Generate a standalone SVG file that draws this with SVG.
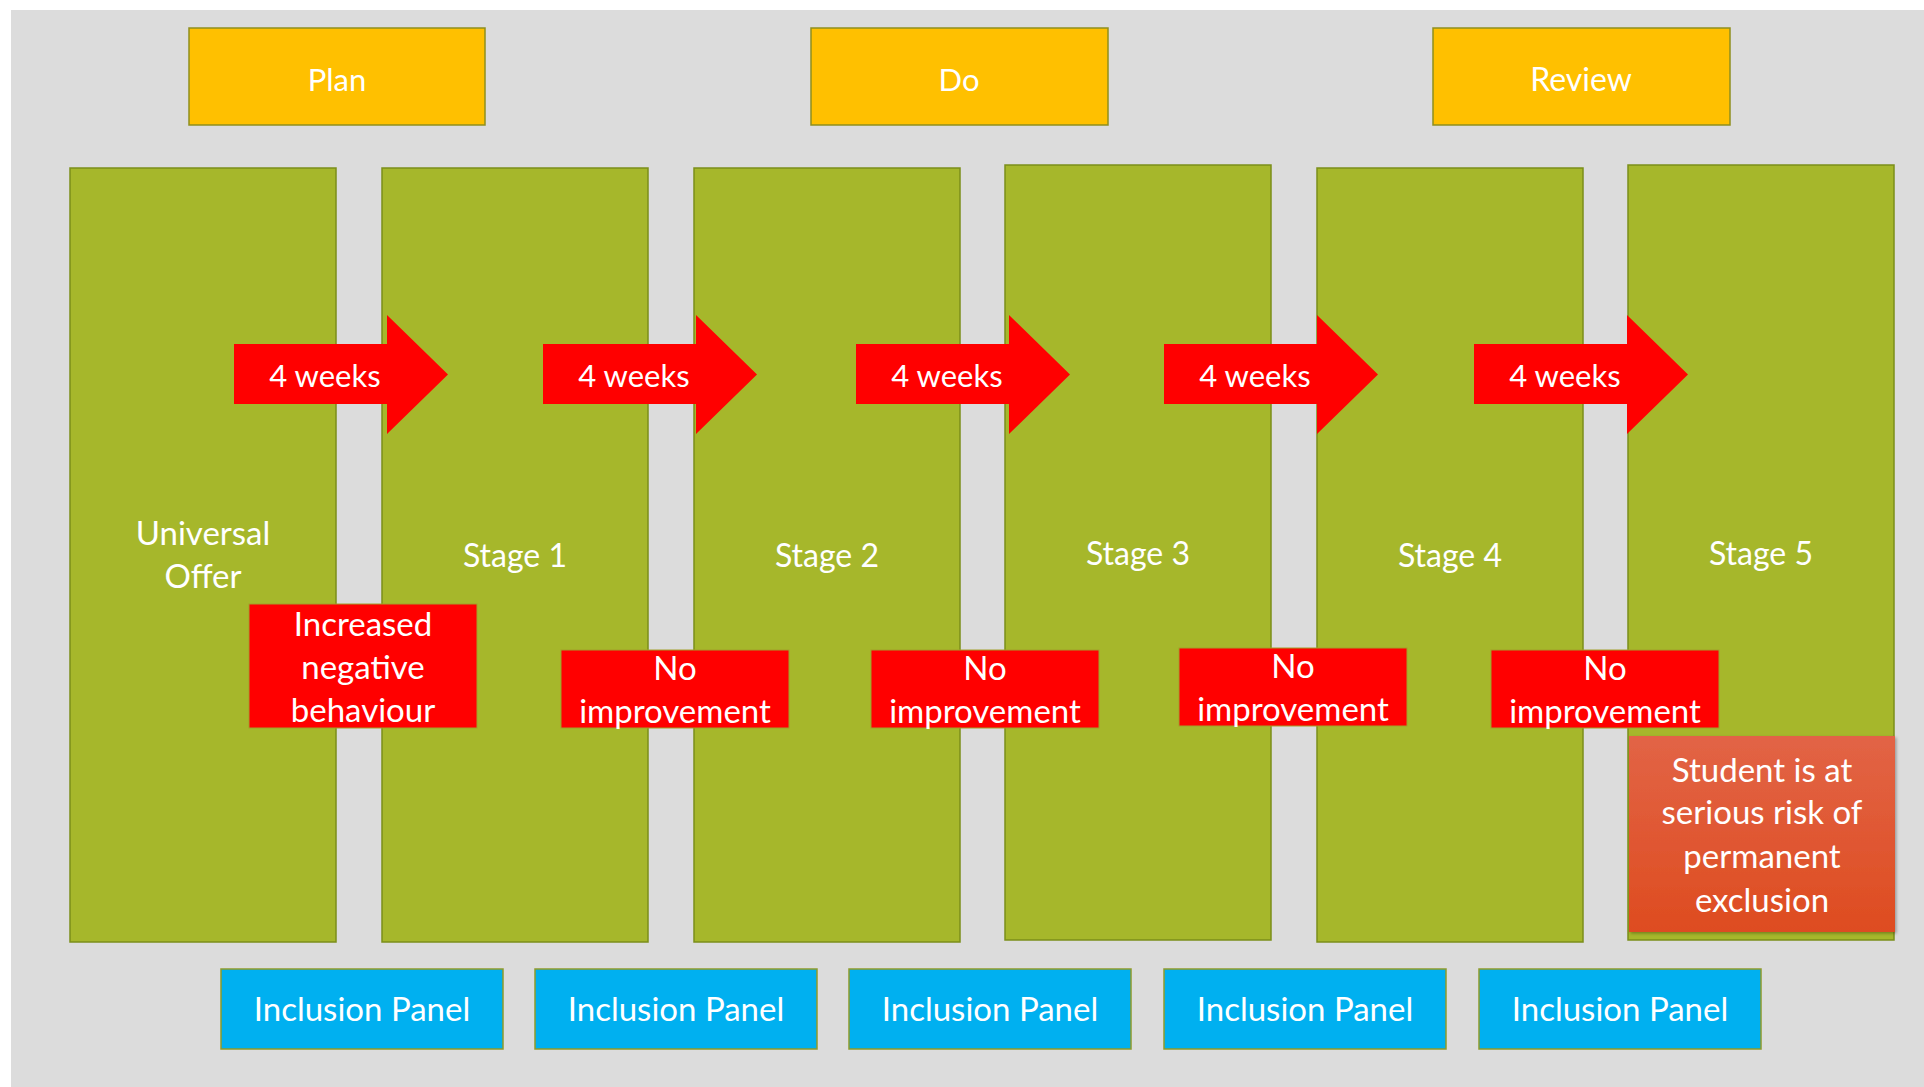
<svg xmlns="http://www.w3.org/2000/svg" width="1924" height="1087" viewBox="0 0 1924 1087">
<defs>
<linearGradient id="orangeGrad" x1="0" y1="0" x2="0" y2="1">
<stop offset="0" stop-color="#E26446"/>
<stop offset="1" stop-color="#DE4C20"/>
</linearGradient>
<filter id="sh" x="-5%" y="-5%" width="115%" height="115%">
<feDropShadow dx="1.5" dy="1.5" stdDeviation="1.5" flood-color="#000" flood-opacity="0.3"/>
</filter>
</defs>
<style>
text{font-family:Lato,"Open Sans","Liberation Sans",sans-serif;fill:#FFFFFF;text-anchor:middle}
.phase{fill:#FFC000;stroke:#8E8F1E;stroke-width:1.5}
.col{fill:#A6B72B;stroke:#7B8E1A;stroke-width:1.5}
.red{fill:#FF0000;stroke:#A2A02A;stroke-width:1}
.blue{fill:#00B0F0;stroke:#8E9A2A;stroke-width:1.5}
.arrow{fill:#FF0000}
.t33{font-size:33px}
.t32{font-size:32px}
.t30{font-size:31px}
.t29{font-size:31px}
</style>
<rect x="0" y="0" width="1924" height="1087" fill="#FFFFFF"/>
<rect x="11" y="10" width="1913" height="1077" fill="#DCDCDC"/>

<g id="plan"><rect class="phase" x="189" y="28" width="296" height="97"/><text class="t30" x="337" y="91">Plan</text></g>
<g id="do"><rect class="phase" x="811" y="28" width="297" height="97"/><text class="t30" x="959" y="91">Do</text></g>
<g id="review"><rect class="phase" x="1433" y="28" width="297" height="97"/><text class="t32" x="1581" y="91">Review</text></g>

<g id="universal-offer"><rect class="col" x="70" y="168" width="266" height="774"/><text class="t33" x="203" y="545">Universal</text><text class="t33" x="203" y="588">Offer</text></g>
<g id="stage1"><rect class="col" x="382" y="168" width="266" height="774"/><text class="t32" x="515" y="567">Stage 1</text></g>
<g id="stage2"><rect class="col" x="694" y="168" width="266" height="774"/><text class="t32" x="827" y="567">Stage 2</text></g>
<g id="stage3"><rect class="col" x="1005" y="165" width="266" height="775"/><text class="t32" x="1138" y="565">Stage 3</text></g>
<g id="stage4"><rect class="col" x="1317" y="168" width="266" height="774"/><text class="t32" x="1450" y="567">Stage 4</text></g>
<g id="stage5"><rect class="col" x="1628" y="165" width="266" height="775"/><text class="t32" x="1761" y="565">Stage 5</text></g>

<g id="connectors">
<g id="arrow1"><path class="arrow" d="M234,344 H387 V315 L448,374.5 L387,434 V404 H234 Z"/><text class="t29" x="325" y="387">4 weeks</text></g>
<g id="arrow2"><path class="arrow" d="M543,344 H696 V315 L757,374.5 L696,434 V404 H543 Z"/><text class="t29" x="634" y="387">4 weeks</text></g>
<g id="arrow3"><path class="arrow" d="M856,344 H1009 V315 L1070,374.5 L1009,434 V404 H856 Z"/><text class="t29" x="947" y="387">4 weeks</text></g>
<g id="arrow4"><path class="arrow" d="M1164,344 H1317 V315 L1378,374.5 L1317,434 V404 H1164 Z"/><text class="t29" x="1255" y="387">4 weeks</text></g>
<g id="arrow5"><path class="arrow" d="M1474,344 H1627 V315 L1688,374.5 L1627,434 V404 H1474 Z"/><text class="t29" x="1565" y="387">4 weeks</text></g>
</g>

<g id="increased-negative"><rect class="red" x="249" y="604" width="228" height="124"/><text class="t33" x="363" y="636">Increased</text><text class="t33" x="363" y="679">negative</text><text class="t33" x="363" y="722">behaviour</text></g>
<g id="no-improvement-1"><rect class="red" x="561" y="650" width="228" height="78"/><text class="t33" x="675" y="680">No</text><text class="t33" x="675" y="723">improvement</text></g>
<g id="no-improvement-2"><rect class="red" x="871" y="650" width="228" height="78"/><text class="t33" x="985" y="680">No</text><text class="t33" x="985" y="723">improvement</text></g>
<g id="no-improvement-3"><rect class="red" x="1179" y="648" width="228" height="78"/><text class="t33" x="1293" y="678">No</text><text class="t33" x="1293" y="721">improvement</text></g>
<g id="no-improvement-4"><rect class="red" x="1491" y="650" width="228" height="78"/><text class="t33" x="1605" y="680">No</text><text class="t33" x="1605" y="723">improvement</text></g>

<g id="serious-risk"><rect x="1629" y="736" width="266" height="196" fill="url(#orangeGrad)" filter="url(#sh)"/><text class="t33" x="1762" y="782">Student is at</text><text class="t33" x="1762" y="824">serious risk of</text><text class="t33" x="1762" y="868">permanent</text><text class="t33" x="1762" y="912">exclusion</text></g>

<g id="inclusion-panel-1"><rect class="blue" x="221" y="969" width="282" height="80"/><text class="t33" x="362" y="1021">Inclusion Panel</text></g>
<g id="inclusion-panel-2"><rect class="blue" x="535" y="969" width="282" height="80"/><text class="t33" x="676" y="1021">Inclusion Panel</text></g>
<g id="inclusion-panel-3"><rect class="blue" x="849" y="969" width="282" height="80"/><text class="t33" x="990" y="1021">Inclusion Panel</text></g>
<g id="inclusion-panel-4"><rect class="blue" x="1164" y="969" width="282" height="80"/><text class="t33" x="1305" y="1021">Inclusion Panel</text></g>
<g id="inclusion-panel-5"><rect class="blue" x="1479" y="969" width="282" height="80"/><text class="t33" x="1620" y="1021">Inclusion Panel</text></g>
</svg>
